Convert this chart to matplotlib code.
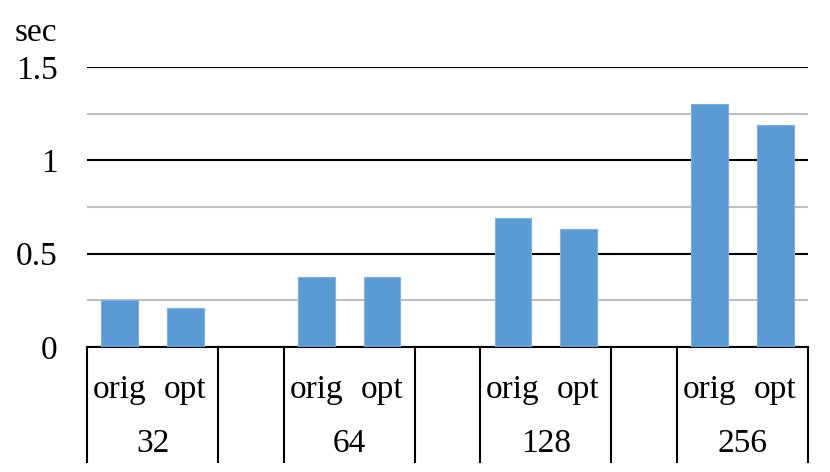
import matplotlib
matplotlib.use("Agg")
import matplotlib.pyplot as plt
import matplotlib.transforms as mtransforms

groups = ["32", "64", "128", "256"]
series = ["orig", "opt"]
orig = [0.25, 0.375, 0.69, 1.30]
opt = [0.21, 0.375, 0.63, 1.19]

plt.rcParams["font.family"] = ["Liberation Serif", "DejaVu Serif"]
FS = 24
BAR = "#5B9BD5"

fig = plt.figure(figsize=(8.3, 4.72), dpi=100)
ax = fig.add_axes([87 / 830, 1 - 347 / 472, 721 / 830, 280 / 472])

# each group uses two slots, then one empty slot
pos_orig = [i * 3 for i in range(len(groups))]
pos_opt = [i * 3 + 1 for i in range(len(groups))]
ax.bar(pos_orig, orig, width=0.56, color=BAR, edgecolor="#7EB0E0", linewidth=0.8, zorder=3)
ax.bar(pos_opt, opt, width=0.56, color=BAR, edgecolor="#7EB0E0", linewidth=0.8, zorder=3)

ax.set_xlim(-0.5, len(groups) * 3 - 1.5)
ax.set_ylim(0, 1.5)
ax.set_yticks([0, 0.5, 1, 1.5])
ax.set_yticklabels(["0", "0.5", "1", "1.5"], fontsize=FS)
ax.set_yticks([0.25, 0.75, 1.25], minor=True)
ax.tick_params(axis="y", which="both", length=0, pad=21)
ax.set_xticks([])
ax.grid(axis="y", which="major", color="black", linewidth=1.5, zorder=1)
ax.grid(axis="y", which="minor", color="#BFBFBF", linewidth=1.5, zorder=1)
ax.set_axisbelow(True)

for side in ["top", "right", "left"]:
    ax.spines[side].set_visible(False)
ax.spines["bottom"].set_linewidth(1.5)
ax.spines["bottom"].set_color("black")

# multi-level category axis
trans = mtransforms.blended_transform_factory(ax.transData, ax.transAxes)
bottom = -(462 - 347) / 280
for i, g in enumerate(groups):
    left, right = i * 3 - 0.5, i * 3 + 1.5
    for xv in (left, right):
        ax.plot([xv, xv], [0, bottom], color="black", linewidth=1.5,
                transform=trans, clip_on=False)
    for j, s in enumerate(series):
        ax.text(i * 3 + j, -(390 - 347) / 280, s, transform=trans,
                ha="center", va="center", fontsize=FS)
    ax.text(i * 3 + 0.5, -(444 - 347) / 280, g, transform=trans,
            ha="center", va="center", fontsize=FS)

fig.text(57 / 830, 1 - 33 / 472, "sec", ha="right", va="center", fontsize=FS)

fig.savefig("out.png", dpi=100)
